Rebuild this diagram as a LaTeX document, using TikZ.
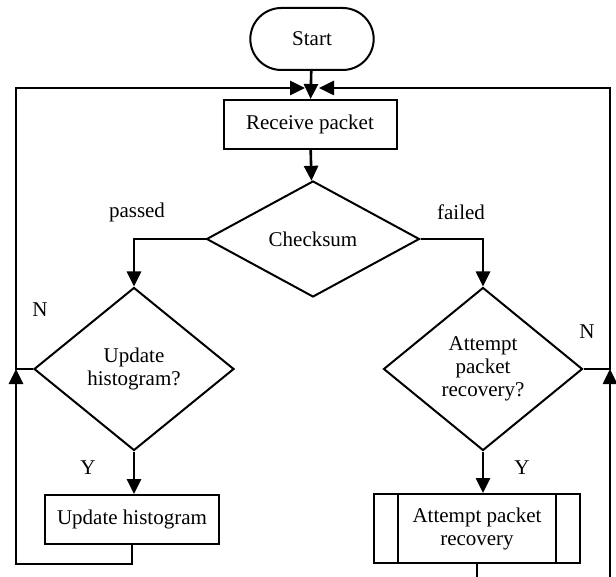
\documentclass[tikz,border=0pt]{standalone}
\usepackage{fontspec}
\setmainfont{Liberation Serif}
\usetikzlibrary{shapes.geometric}
\usetikzlibrary{shapes.misc}
\usetikzlibrary{arrows.meta}

\begin{document}
\begin{tikzpicture}[x=1pt, y=-1pt, >={Triangle[length=15pt,width=14pt]}]
		\tikzstyle{every node}=[font=\fontsize{21}{23}\selectfont]
		\tikzstyle{block}=[draw, line width=2pt, shape=rectangle, inner sep=0pt]
		\tikzstyle{decision}=[draw, line width=2pt, shape=diamond, aspect=1.2, inner sep=0pt, align=center]
		\tikzstyle{flow}=[line width=2.6pt]

		\useasboundingbox (0,0) rectangle (616,577);
		\clip (0,0) rectangle (616,577);

    % Terminal and first steps
		\node[draw, line width=2pt, shape=rounded rectangle, minimum width=130pt, minimum height=62pt](start) at (312,39){Start};
		\node[block, minimum width=173pt, minimum height=49pt](recv) at (310,124.5){Receive packet};
		\node[decision, minimum width=213pt, minimum height=116pt](cs) at (313,239){Checksum};

    % Decisions
		\node[decision, minimum width=200pt, minimum height=163pt](uq) at (134,369){Update\\histogram?};
		\node[decision, minimum width=199pt, minimum height=163pt](aq) at (483,369){Attempt\\packet\\recovery?};

    % Actions
		\node[block, minimum width=174pt, minimum height=49pt](ubox) at (132,519.5){Update histogram};
		\node[block, minimum width=206pt, minimum height=69pt, align=center](abox) at (477,528.5){Attempt packet\\recovery};
		\draw[line width=2pt] ([xshift=25pt]abox.north west) -- ([xshift=25pt]abox.south west);
		\draw[line width=2pt] ([xshift=-25pt]abox.north east) -- ([xshift=-25pt]abox.south east);

    % Loop corners
		\coordinate (top) at (312,88);
		\coordinate (jl) at (16,88);
		\coordinate (jr) at (610,88);
		\coordinate (lb) at (16,564);
		\coordinate (rb) at (610,600);

    % Connections
		\draw[flow, ->] (start) -- (recv);
		\draw[flow, ->] (recv) -- (cs);
		\draw[flow, ->] (cs.west) -| (uq.north);
		\draw[flow, ->] (cs.east) -| (aq.north);
		\draw[flow, ->] (uq.south) -- (uq.south |- ubox.north);
		\draw[flow, ->] (aq.south) -- (aq.south |- abox.north);

		\draw[flow, ->, shorten >=7pt] (uq.west) -| (jl) -- (top);
		\draw[flow, ->, shorten >=7pt] (aq.east) -| (jr) -- (top);
		\draw[flow, ->] (ubox.south) |- (lb) -- (lb |- uq.west);
		\draw[flow, ->] (abox.south) |- (rb) -- (rb |- aq.east);

    % Branch labels
		\node(passed) at (137,212){passed};
		\node(failed) at (461,212){failed};
		\node(nl) at (40,310){N};
		\node(nr) at (587,332){N};
		\node(yl) at (88,468){Y};
		\node(yr) at (522,468){Y};

  \end{tikzpicture}
\end{document}
